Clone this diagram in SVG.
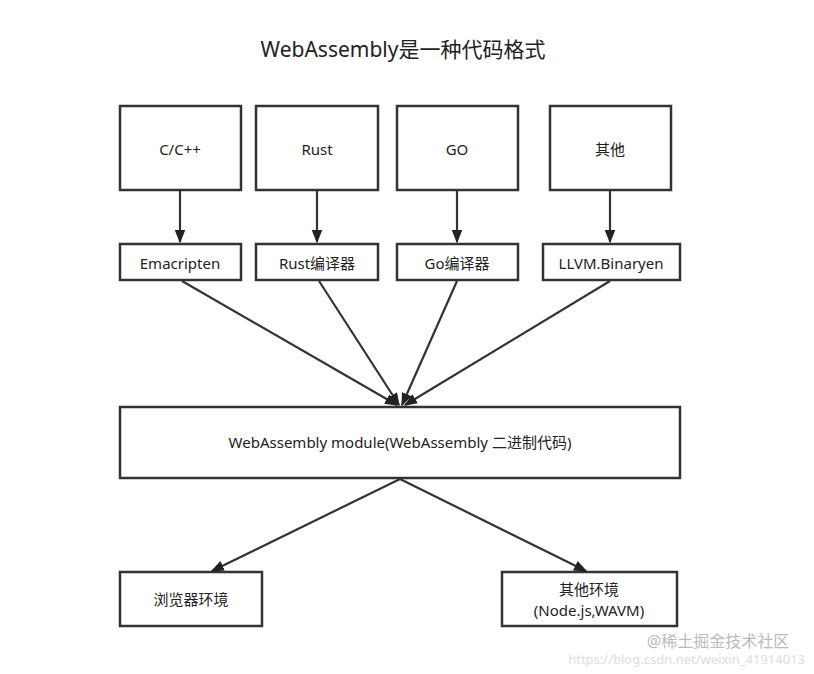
<svg xmlns="http://www.w3.org/2000/svg" width="814" height="674" viewBox="0 0 814 674">
<style>
rect{fill:#fff;stroke:#333;stroke-width:2.5}
text{font-family:"Noto Sans","Noto Sans CJK SC",sans-serif;font-size:15px;fill:#222;text-anchor:middle;dominant-baseline:central}
.c line{stroke:#333;stroke-width:2.2;marker-end:url(#a)}
</style>
<defs><marker id="a" viewBox="0 0 10 10" refX="9" refY="5" markerWidth="6" markerHeight="6" orient="auto" markerUnits="strokeWidth"><path d="M0,1L10,5L0,9z" fill="#222"/></marker></defs>
<rect width="814" height="674" style="fill:#fff;stroke:none"/>
<text x="403" y="49" style="font-size:21px">WebAssembly是一种代码格式</text>
<g id="n1"><rect x="120" y="106" width="121" height="84"/><text x="180" y="149">C/C++</text></g>
<g id="n2"><rect x="256" y="106" width="122" height="84"/><text x="317" y="149">Rust</text></g>
<g id="n3"><rect x="397" y="106" width="121" height="84"/><text x="457" y="149">GO</text></g>
<g id="n4"><rect x="550" y="106" width="121" height="84"/><text x="610" y="149">其他</text></g>
<g id="e1"><rect x="120" y="244" width="121" height="36"/><text x="180" y="263">Emacripten</text></g>
<g id="e2"><rect x="256" y="244" width="122" height="36"/><text x="317" y="263">Rust编译器</text></g>
<g id="e3"><rect x="397" y="244" width="121" height="36"/><text x="457" y="263">Go编译器</text></g>
<g id="e4"><rect x="543" y="244" width="137" height="36"/><text x="611" y="263">LLVM.Binaryen</text></g>
<g id="m"><rect x="120" y="407" width="560" height="71"/><text x="400" y="442">WebAssembly module(WebAssembly 二进制代码)</text></g>
<g id="b1"><rect x="120" y="572" width="142" height="54"/><text x="191" y="599">浏览器环境</text></g>
<g id="b2"><rect x="502" y="572" width="175" height="54"/><text x="589" y="589">其他环境</text><text x="589" y="610">(Node.js,WAVM)</text></g>
<g class="c">
<line x1="180" y1="191" x2="180" y2="242"/>
<line x1="317" y1="191" x2="317" y2="242"/>
<line x1="457" y1="191" x2="457" y2="242"/>
<line x1="610" y1="191" x2="610" y2="242"/>
<line x1="182" y1="281" x2="397" y2="405"/>
<line x1="319" y1="281" x2="399" y2="405"/>
<line x1="457" y1="281" x2="402" y2="405"/>
<line x1="610" y1="281" x2="405" y2="405"/>
<line x1="400" y1="479" x2="212" y2="571"/>
<line x1="400" y1="479" x2="586" y2="571"/>
</g>
<text x="718" y="641" style="font-size:16px;fill:#bbb">@稀土掘金技术社区</text>
<text x="805" y="659" style="font-size:13px;fill:#ddd;text-anchor:end">https://blog.csdn.net/weixin_41914013</text>
</svg>
